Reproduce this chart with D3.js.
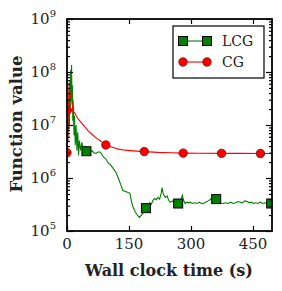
<!DOCTYPE html>
<html><head><meta charset="utf-8">
<script src="https://cdn.jsdelivr.net/npm/d3@7/dist/d3.min.js"></script>
<style>html,body{margin:0;padding:0;background:#fff;}</style>
</head><body>
<svg id="chart" width="282" height="291"></svg>
<script>
const seriesNames = ["LCG", "CG"];
const xTicks = [0, 150, 300, 450];
const yTickExps = [5, 6, 7, 8, 9];

const lcgTime = [0,1,2,3,4,5,6,7,8,9,10,11,12,13,14,15,17,18,20,22,24,26,28,30,33,36,40,44,47,52,56,60,65,70,75,80,84,88,94,100,106,112,118,124,130,135,140,146,152,156,160,165,170,175,180,185,191,196,200,204,208,212,216,220,224,228,230,233,238,242,246,250,255,260,265,269,273,276,279,282,286,290,294,298,303,308,315,320,325,330,335,341,346,350,355,361,366,372,378,384,390,396,402,408,414,419,424,430,436,441,446,451,456,462,468,473,478,485,490,494];
const lcgValue = [3.3e6,1.2e7,5.1e6,2.9e7,7.9e6,4.6e7,1.0e7,7.0e7,1.9e7,1.1e8,2.9e7,1.35e8,3.6e7,5.6e7,1.2e7,2.9e7,6.4e6,1.5e7,4.2e6,1.0e7,3.3e6,7.3e6,2.7e6,5.1e6,3.3e6,4.7e6,3.1e6,3.8e6,3.2e6,3.4e6,3.1e6,3.3e6,3.0e6,2.9e6,3.1e6,3.1e6,2.8e6,2.5e6,2.3e6,1.9e6,1.75e6,1.5e6,1.3e6,1.0e6,7.5e5,5.8e5,5.6e5,5.4e5,5.2e5,3.6e5,2.8e5,2.3e5,2.0e5,1.8e5,2.0e5,2.24e5,2.7e5,3.0e5,3.4e5,3.2e5,3.8e5,4.1e5,3.9e5,4.3e5,4.0e5,5.2e5,6.6e5,5.0e5,4.3e5,4.6e5,3.8e5,3.5e5,3.7e5,3.4e5,3.5e5,3.3e5,3.6e5,3.9e5,4.7e5,3.8e5,3.3e5,3.5e5,3.4e5,3.5e5,3.3e5,3.4e5,3.3e5,3.5e5,3.3e5,3.3e5,3.5e5,3.7e5,3.9e5,4.1e5,3.9e5,4.0e5,3.5e5,3.3e5,3.3e5,3.4e5,3.3e5,3.5e5,3.3e5,3.4e5,3.6e5,3.5e5,3.4e5,3.7e5,3.6e5,3.4e5,3.5e5,3.3e5,3.4e5,3.3e5,3.5e5,3.3e5,3.4e5,3.3e5,3.4e5,3.3e5];
const lcgMarkerTime = [47, 191, 269, 361, 494];

const cgTime = [0,1,2,3,4,5,6,7,8,10,12,14,17,19,24,31,37,44,52,63,72,80,87,94,110,125,140,160,187,220,250,281,320,374,420,468,495];
const cgValue = [3.0e6,1.9e7,5.0e6,3.0e7,1.5e7,6.2e7,3.0e7,4.5e7,3.2e7,3.6e7,2.6e7,1.9e7,1.75e7,1.66e7,1.4e7,1.2e7,1.05e7,9.1e6,7.6e6,6.4e6,5.6e6,5.1e6,4.6e6,4.2e6,3.8e6,3.5e6,3.35e6,3.25e6,3.15e6,3.05e6,3.0e6,2.95e6,2.93e6,2.92e6,2.91e6,2.9e6,2.9e6];
const cgMarkerTime = [0, 1, 94, 187, 281, 374, 468];

const green = "#008000", red = "#ff0000";
const font = "'DejaVu Serif', serif";

const svg = d3.select("#chart");
const L = 67, R = 272, T = 19, B = 231;
const x = d3.scaleLinear().domain([0, 496]).range([L, R]);
const y = d3.scaleLog().domain([1e5, 1e9]).range([B, T]);

svg.append("clipPath").attr("id","clip").append("rect")
  .attr("x", L).attr("y", T).attr("width", R-L).attr("height", B-T);

const line = d3.line().x(d => x(d[0])).y(d => y(d[1]));
const lcg = lcgTime.map((t,i) => [t, lcgValue[i]]);
const cg = cgTime.map((t,i) => [t, cgValue[i]]);

const plot = svg.append("g").attr("clip-path","url(#clip)");
plot.append("path").datum(lcg).attr("d", line).attr("fill","none")
  .attr("stroke", green).attr("stroke-width", 1.1);
plot.append("path").datum(cg).attr("d", line).attr("fill","none")
  .attr("stroke", red).attr("stroke-width", 1.1);

plot.selectAll("rect.lm").data(lcg.filter(d => lcgMarkerTime.includes(d[0])))
  .join("rect").attr("class","lm")
  .attr("x", d => x(d[0]) - 4.5).attr("y", d => y(d[1]) - 4.5)
  .attr("width", 9).attr("height", 9)
  .attr("fill", green).attr("stroke", "#000").attr("stroke-width", 1);
plot.selectAll("circle.cm").data(cg.filter(d => cgMarkerTime.includes(d[0])))
  .join("circle").attr("class","cm")
  .attr("cx", d => x(d[0])).attr("cy", d => y(d[1])).attr("r", 4.2)
  .attr("fill", red).attr("stroke", "#800000").attr("stroke-width", 0.8);

// axes frame
const ax = svg.append("g");
const bottomAxis = d3.axisBottom(x).tickValues(xTicks).tickSize(-5).tickFormat("");
const topAxis = d3.axisTop(x).tickValues(xTicks).tickSize(-5).tickFormat("");
ax.append("g").attr("transform", `translate(0,${B})`).call(bottomAxis);
ax.append("g").attr("transform", `translate(0,${T})`).call(topAxis);

const minorVals = [];
for (let e = 5; e < 9; e++) for (let m = 2; m <= 9; m++) minorVals.push(m * Math.pow(10, e));
const majorVals = yTickExps.map(e => Math.pow(10, e));
ax.append("g").attr("transform", `translate(${L},0)`).call(d3.axisLeft(y).tickValues(majorVals).tickSize(-6).tickFormat(""));
ax.append("g").attr("transform", `translate(${L},0)`).call(d3.axisLeft(y).tickValues(minorVals).tickSize(-3).tickFormat(""));
ax.append("g").attr("transform", `translate(${R},0)`).call(d3.axisRight(y).tickValues(majorVals).tickSize(-6).tickFormat(""));
ax.append("g").attr("transform", `translate(${R},0)`).call(d3.axisRight(y).tickValues(minorVals).tickSize(-3).tickFormat(""));
ax.selectAll(".domain").remove();
ax.selectAll(".tick line").attr("stroke","#000").attr("stroke-width",1.2);
svg.append("rect").attr("x", L).attr("y", T).attr("width", R-L).attr("height", B-T)
  .attr("fill","none").attr("stroke","#000").attr("stroke-width",1.8);

// tick labels
svg.append("g").selectAll("text").data(xTicks).join("text")
  .attr("x", d => x(d)).attr("y", 249).attr("text-anchor","middle")
  .attr("font-family", font).attr("font-size", 15).attr("fill","#222").text(d => d);

const yl = svg.append("g").selectAll("text").data(yTickExps).join("text")
  .attr("x", 56).attr("y", d => y(Math.pow(10, d)) + 5)
  .attr("text-anchor","end").attr("font-family", font).attr("font-size", 15).attr("fill","#222");
yl.append("tspan").text("10");
yl.append("tspan").attr("font-size", 10).attr("dy", -7).text(d => d);

// axis labels
svg.append("text").attr("x", 169).attr("y", 276).attr("text-anchor","middle")
  .attr("font-family", font).attr("font-size", 16).attr("font-weight","bold").attr("fill","#222")
  .text("Wall clock time (s)");
svg.append("text").attr("transform", "translate(22,124) rotate(-90)").attr("text-anchor","middle")
  .attr("font-family", font).attr("font-size", 16.5).attr("font-weight","bold").attr("fill","#222")
  .text("Function value");

// legend
const lg = svg.append("g");
lg.append("rect").attr("x", 173).attr("y", 26).attr("width", 91).attr("height", 52)
  .attr("fill","#fff").attr("stroke","#000").attr("stroke-width",1.2);
const items = [
  {name: seriesNames[0], color: green, shape: "square", yy: 41},
  {name: seriesNames[1], color: red, shape: "circle", yy: 62}
];
items.forEach(it => {
  lg.append("line").attr("x1", 183).attr("x2", 207).attr("y1", it.yy).attr("y2", it.yy)
    .attr("stroke", it.color).attr("stroke-width", 1.1);
  [183, 207].forEach(cx => {
    if (it.shape === "square") {
      lg.append("rect").attr("x", cx-4.5).attr("y", it.yy-4.5).attr("width",9).attr("height",9)
        .attr("fill", green).attr("stroke","#000").attr("stroke-width",1);
    } else {
      lg.append("circle").attr("cx", cx).attr("cy", it.yy).attr("r", 4.2)
        .attr("fill", red).attr("stroke","#800000").attr("stroke-width",0.8);
    }
  });
  lg.append("text").attr("x", 222).attr("y", it.yy + 5).attr("font-family", font)
    .attr("font-size", 14).attr("fill","#222").text(it.name);
});
</script>
</body></html>
